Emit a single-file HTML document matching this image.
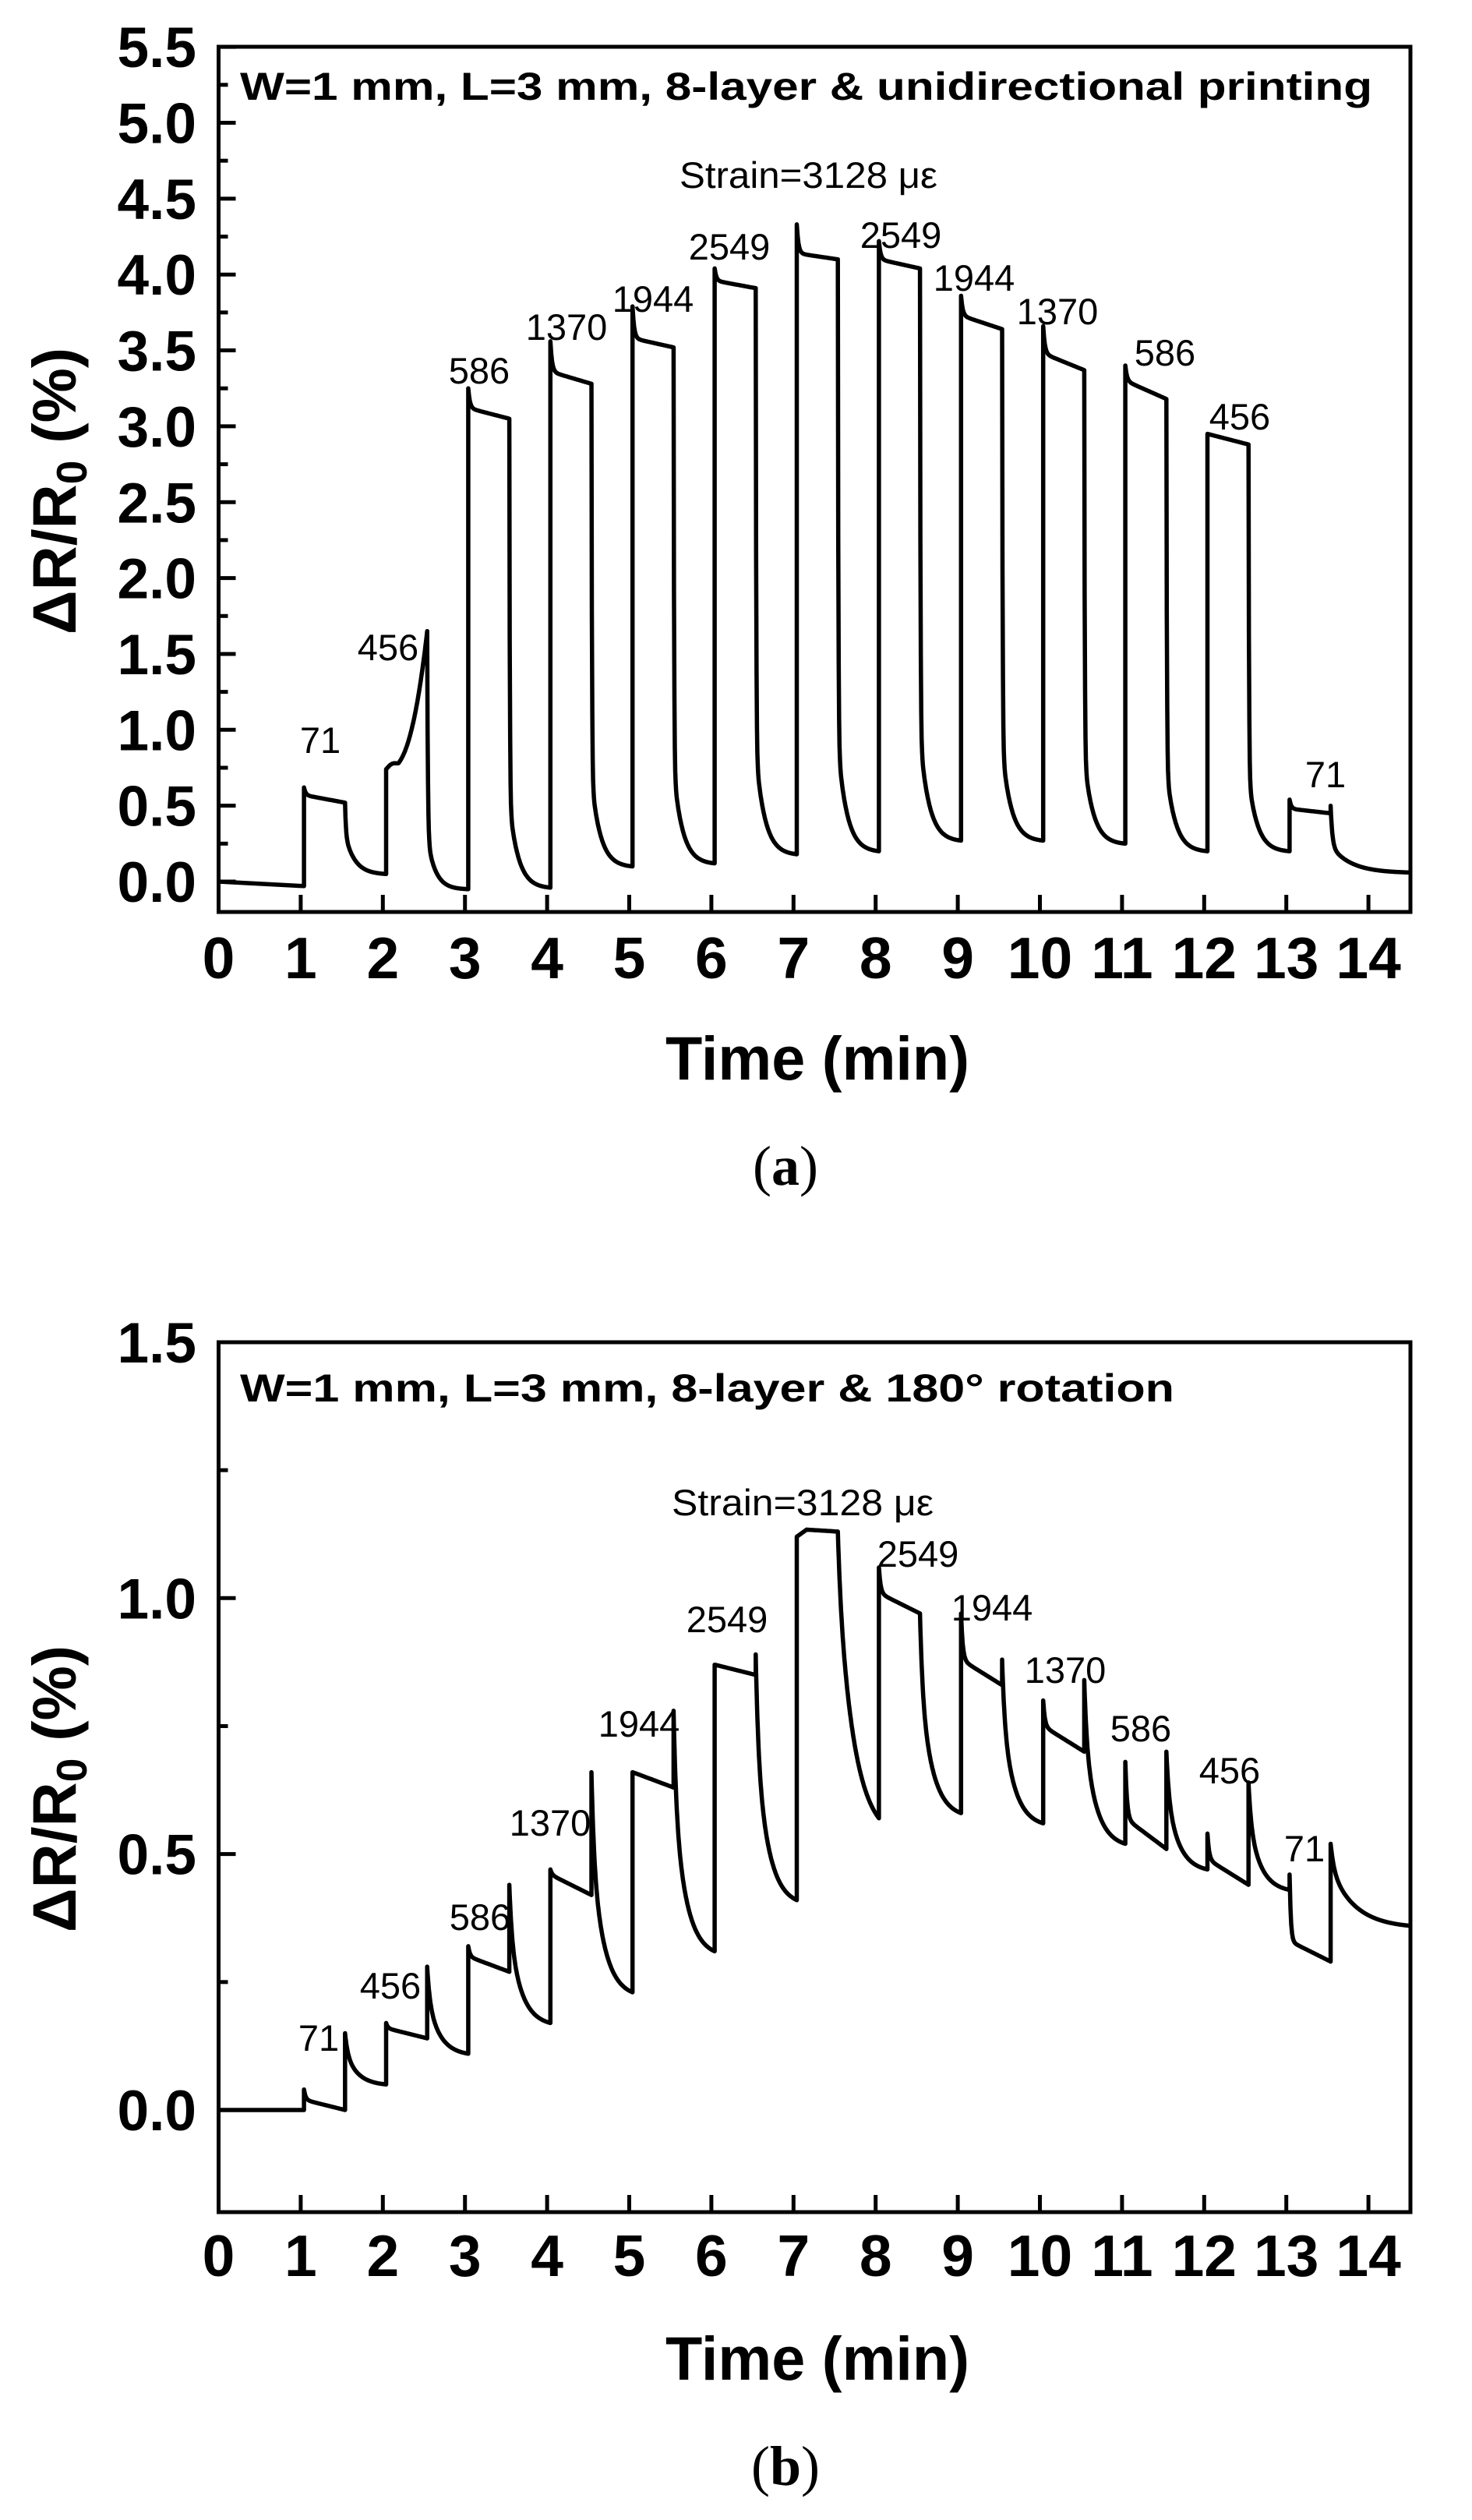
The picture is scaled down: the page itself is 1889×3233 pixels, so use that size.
<!DOCTYPE html>
<html><head><meta charset="utf-8"><style>
html,body{margin:0;padding:0;background:#fff}
svg{display:block}
text{font-family:"Liberation Sans",Arial,sans-serif;fill:#000}
.tk{font-weight:bold;font-size:75px}
.yl{font-weight:bold;font-size:73px}
.an{font-size:47px}
.ti{font-weight:bold;font-size:50px}
.ax{font-weight:bold;font-size:79px}
.cap{font-family:"Liberation Serif",serif;font-size:72px}
</style></head><body>
<svg id="s" width="1889" height="3233" viewBox="0 0 1889 3233" xmlns="http://www.w3.org/2000/svg">
<g id="g"></g>
<text class="ti" x="308" y="128" textLength="1453" lengthAdjust="spacingAndGlyphs">W=1 mm, L=3 mm, 8-layer &amp; unidirectional printing</text>
<text class="an" x="872" y="241" textLength="331" lengthAdjust="spacingAndGlyphs">Strain=3128 με</text>
<g class="an" text-anchor="middle">
<text x="411" y="966">71</text><text x="498" y="847">456</text><text x="615" y="492">586</text>
<text x="727" y="436">1370</text><text x="838" y="400">1944</text><text x="936" y="333">2549</text>
<text x="1156" y="318">2549</text><text x="1250" y="373">1944</text><text x="1357" y="416">1370</text>
<text x="1495" y="469">586</text><text x="1591" y="551">456</text><text x="1701" y="1010">71</text>
</g>
<text class="ax" x="854" y="1385" textLength="390" lengthAdjust="spacingAndGlyphs">Time (min)</text>
<text class="cap" x="1008" y="1520" text-anchor="middle">(<tspan font-weight="bold">a</tspan>)</text>
<text class="ax" transform="translate(97,630) rotate(-90)" text-anchor="middle">ΔR/R<tspan font-size="55" dy="14">0</tspan><tspan dy="-14"> (%)</tspan></text>
<text class="ti" x="308" y="1798" textLength="1199" lengthAdjust="spacingAndGlyphs">W=1 mm, L=3 mm, 8-layer &amp;  180° rotation</text>
<text class="an" x="862" y="1944" textLength="336" lengthAdjust="spacingAndGlyphs">Strain=3128 με</text>
<g class="an" text-anchor="middle">
<text x="409" y="2631">71</text><text x="501" y="2564">456</text><text x="616" y="2476">586</text>
<text x="706" y="2355">1370</text><text x="820" y="2228">1944</text><text x="933" y="2094">2549</text>
<text x="1178" y="2010">2549</text><text x="1273" y="2079">1944</text><text x="1367" y="2159">1370</text>
<text x="1464" y="2234">586</text><text x="1578" y="2288">456</text><text x="1674" y="2388">71</text>
</g>
<text class="ax" x="854" y="3053" textLength="390" lengthAdjust="spacingAndGlyphs">Time (min)</text>
<text class="cap" x="1008" y="3188" text-anchor="middle">(<tspan font-weight="bold">b</tspan>)</text>
<text class="ax" transform="translate(97,2295) rotate(-90)" text-anchor="middle">ΔR/R<tspan font-size="55" dy="14">0</tspan><tspan dy="-14"> (%)</tspan></text>
</svg>
<script>
(function(){
var NS="http://www.w3.org/2000/svg",g=document.getElementById('g');
function el(n,a,txt){var e=document.createElementNS(NS,n);for(var k in a)e.setAttribute(k,a[k]);if(txt!==undefined)e.textContent=txt;g.appendChild(e);return e;}
function X(t){return 280.5+105.4*t;}
function axes(top,bot,Y,vmin,vmax,majors,minorStep,lblFmt,lblY){
  el('rect',{x:280.5,y:top,width:1810-280.5,height:bot-top,fill:'none',stroke:'#000','stroke-width':5});
  for(var i=0;i<=14;i++){var x=X(i);el('line',{x1:x,y1:bot,x2:x,y2:bot-22,stroke:'#000','stroke-width':5});
    el('text',{x:x,y:lblY,'text-anchor':'middle','class':'tk'},String(i));}
  for(var v=Math.ceil(vmin/minorStep)*minorStep;v<=vmax+1e-9;v+=minorStep){
    var y=Y(v);var major=majors.some(function(m){return Math.abs(m-v)<1e-6;});
    el('line',{x1:280.5,y1:y,x2:280.5+(major?22:12),y2:y,stroke:'#000','stroke-width':5});
    if(major)el('text',{x:252,y:y+26,'text-anchor':'end','class':'yl'},v.toFixed(1));
  }
}
var Ya=function(v){return 1131-194.7*v;};
var ma=[];for(var i=0;i<=11;i++)ma.push(i*0.5);
axes(60,1170,Ya,-0.2,5.5,ma,0.25,null,1255);
var Yb=function(v){return 2707-656.7*v;};
axes(1722,2838,Yb,-0.2,1.5,[0,0.5,1.0,1.5],0.25,null,2920);

function pathFrom(pts,Y){var d='';for(var i=0;i<pts.length;i++){d+=(i?'L':'M')+X(pts[i][0]).toFixed(1)+','+Y(pts[i][1]).toFixed(1);}
  el('path',{d:d,fill:'none',stroke:'#000','stroke-width':5.5,'stroke-linejoin':'round'});}
function on(p,t0,pk,q1,q2,tau){tau=tau||0.02;for(var i=0;i<=50;i++){var dt=i*0.01;p.push([t0+dt,q1+(pk-q1)*Math.exp(-dt/tau)+(q2-q1)*dt/0.5]);}}
function off(p,t0,s,d2,dur,fa,ta,tb){var E=Math.exp(-dur/tb);for(var i=0;i<=Math.round(dur/0.005);i++){var dt=i*0.005;
  var w=fa*Math.exp(-dt/ta)+(1-fa)*(Math.exp(-dt/tb)-E)/(1-E);p.push([t0+dt,d2+(s-d2)*w]);}}
var o=0.04,p=[[0,0],[1+o,-0.03]];
on(p,1+o,0.62,0.57,0.52);off(p,1.5+o,0.52,0.05,0.5,0.45,0.01,0.12);
for(var i=0;i<=50;i++){var dt=i*0.01;p.push([2+o+dt,0.74+0.91*Math.pow(dt/0.5,2.6)+0.03*Math.sin(Math.PI*Math.min(dt/0.15,1))]);}
off(p,2.5+o,1.65,-0.05,0.5,0.8,0.008,0.1);
var A=[[3,3.25,3.12,3.05,-0.04],[4,3.56,3.36,3.28,0.1],[5,3.79,3.58,3.52,0.12],[6,4.04,3.96,3.91,0.18],[7,4.33,4.14,4.1,0.2],
 [8,4.22,4.1,4.04,0.27],[9,3.86,3.73,3.64,0.27],[10,3.66,3.48,3.37,0.25],[11,3.4,3.3,3.18,0.2],[12,2.95,2.95,2.88,0.2]];
A.forEach(function(c){var t=c[0]+o;on(p,t,c[1],c[2],c[3],c[0]==12?0.06:0.02);off(p,t+0.5,c[3],c[4],0.5,0.82,0.006,0.11);});
on(p,13+o,0.54,0.48,0.45);p.push([13.5+o,0.5]);off(p,13.5+o,0.5,0.06,0.96,0.6,0.02,0.25);
pathFrom(p,Ya);
var q=[[0,0],[1+o,0.0]];
on(q,1+o,0.04,0.02,0.0);
var B=[[1.5,0.15,0.05],[2.5,0.28,0.11],[3.5,0.44,0.17],[4.5,0.66,0.23],[5.5,0.78,0.31],[6.5,0.89,0.41]];
var Bon=[[2,0.17,0.16,0.14],[3,0.32,0.30,0.27],[4,0.47,0.46,0.42],[5,0.66,0.66,0.63],[6,0.87,0.87,0.85]];
for(var k=0;k<B.length;k++){var b=B[k];q.push([b[0]+o,b[1]]);off(q,b[0]+o,b[1],b[2],0.5,0.35,0.03,0.15);
  if(k<Bon.length){var c=Bon[k];on(q,c[0]+o,c[1],c[2],c[3]);}}
for(var i=0;i<=50;i++){var dt=i*0.01;q.push([7+o+dt,1.12+0.015*Math.min(dt/0.12,1)-0.005*dt/0.5]);}
off(q,7.5+o,1.13,0.57,0.5,0.15,0.03,0.2);
var C=[[8,1.06,1.01,0.97,0.97,0.58],[9,0.97,0.88,0.83,0.88,0.56],[10,0.80,0.75,0.70,0.84,0.52],[11,0.68,0.57,0.51,0.70,0.47],[12,0.54,0.49,0.44,0.64,0.43]];
C.forEach(function(c){var t=c[0]+o;on(q,t,c[1],c[2],c[3]);q.push([t+0.5,c[4]]);off(q,t+0.5,c[4],c[5],0.5,0.35,0.03,0.15);});
on(q,13+o,0.46,0.33,0.29,0.015);q.push([13.5+o,0.52]);off(q,13.5+o,0.52,0.36,0.96,0.3,0.04,0.3);
pathFrom(q,Yb);
})();
</script>
</body></html>
